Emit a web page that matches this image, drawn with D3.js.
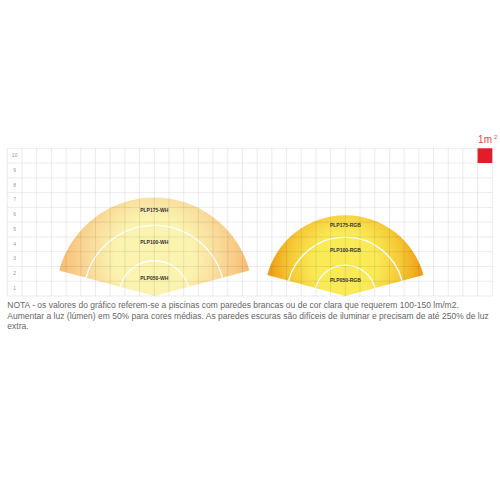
<!DOCTYPE html>
<html>
<head>
<meta charset="utf-8">
<script src="https://cdn.jsdelivr.net/npm/d3@7"></script>
<style>
  body { margin: 0; background: #fff; }
  svg { display: block; }
</style>
</head>
<body>
<div id="chart"></div>
<script>
// rows of the grid, metres
const rowLabels = ['1', '2', '3', '4', '5', '6', '7', '8', '9', '10']

// white models
const whLabels = ['PLP175-WH', 'PLP100-WH', 'PLP050-WH']
const whRadius = [6.7, 4.8, 2.4]

// rgb models
const rgbLabels = ['PLP175-RGB', 'PLP100-RGB', 'PLP050-RGB']
const rgbRadius = [5.5, 4.0, 2.1]

const noteLines = [
  'NOTA - os valores do gráfico referem-se a piscinas com paredes brancas ou de cor clara que requerem 100-150 lm/m2.',
  'Aumentar a luz (lúmen) em 50% para cores médias. As paredes escuras são difíceis de iluminar e precisam de até 250% de luz',
  'extra.'
]

const width = 500
const height = 500
const cols = 33
const rows = 10

const svg = d3.select('#chart')
  .append('svg')
  .attr('width', width)
  .attr('height', height)

const defs = svg.append('defs')

const x = d3.scaleLinear().domain([0, cols]).range([7.3, 492.3])
const y = d3.scaleLinear().domain([0, rows]).range([296, 148.3])
const unit = x(1) - x(0)

const fans = [
  { labels: whLabels, radius: whRadius, col: 10, id: 'gWH', edge: '#f7be74', mid: '#f9d998', core: '#fbf3b0' },
  { labels: rgbLabels, radius: rgbRadius, col: 23, id: 'gRGB', edge: '#ef9c14', mid: '#f6c936', core: '#f9ea56' }
]

const a0 = -75 * Math.PI / 180
const a1 = 75 * Math.PI / 180

const fanLayer = svg.append('g')

fans.forEach((f) => {
  const cx = x(f.col)
  const cy = y(0)
  const R = f.radius[0] * unit

  // radial glow, light in the middle, orange at the rim (local coords of the fan)
  const grad = defs.append('radialGradient')
    .attr('id', f.id)
    .attr('gradientUnits', 'userSpaceOnUse')
    .attr('cx', 0)
    .attr('cy', -R * 0.4)
    .attr('r', R * 0.95)
  grad.append('stop').attr('offset', '0%').attr('stop-color', f.core)
  grad.append('stop').attr('offset', '42%').attr('stop-color', f.core)
  grad.append('stop').attr('offset', '72%').attr('stop-color', f.mid)
  grad.append('stop').attr('offset', '100%').attr('stop-color', f.edge)

  const g = fanLayer.append('g').attr('transform', `translate(${cx},${cy})`)

  g.append('path')
    .attr('d', d3.arc()({ innerRadius: 0, outerRadius: R, startAngle: a0, endAngle: a1 }))
    .attr('fill', `url(#${f.id})`)

  // white ring lines for the smaller models
  f.radius.slice(1).forEach((r) => {
    const rr = r * unit
    const p0 = [rr * Math.sin(a0), -rr * Math.cos(a0)]
    const p1 = [rr * Math.sin(a1), -rr * Math.cos(a1)]
    g.append('path')
      .attr('d', `M${p0[0]},${p0[1]}A${rr},${rr} 0 0 1 ${p1[0]},${p1[1]}`)
      .attr('fill', 'none')
      .attr('stroke', '#fff')
      .attr('stroke-width', 1.3)
  })
})

// grid on top of the fans
const grid = svg.append('g')
grid.selectAll('line.v')
  .data(d3.range(cols + 1))
  .enter()
  .append('line')
  .attr('x1', (d) => x(d))
  .attr('x2', (d) => x(d))
  .attr('y1', y(rows))
  .attr('y2', y(0))
  .attr('stroke', 'rgba(0,0,0,0.1)')
  .attr('stroke-width', 0.8)
grid.selectAll('line.h')
  .data(d3.range(rows + 1))
  .enter()
  .append('line')
  .attr('x1', x(0))
  .attr('x2', x(cols))
  .attr('y1', (d) => y(d))
  .attr('y2', (d) => y(d))
  .attr('stroke', 'rgba(0,0,0,0.1)')
  .attr('stroke-width', 0.8)

// row numbers
grid.selectAll('text.row')
  .data(rowLabels)
  .enter()
  .append('text')
  .attr('x', x(0.5))
  .attr('y', (d, i) => y(i + 0.5))
  .attr('text-anchor', 'middle')
  .attr('dominant-baseline', 'middle')
  .attr('font-family', 'Liberation Sans, Arial, sans-serif')
  .attr('font-size', 5)
  .attr('fill', '#999')
  .text((d) => d)

// model names
fans.forEach((f) => {
  svg.append('g')
    .selectAll('text')
    .data(f.labels)
    .enter()
    .append('text')
    .attr('x', x(f.col))
    .attr('y', (d, i) => y((f.radius[i] + (f.radius[i + 1] || 0)) / 2))
    .attr('text-anchor', 'middle')
    .attr('dominant-baseline', 'middle')
    .attr('font-family', 'Liberation Sans, Arial, sans-serif')
    .attr('font-weight', 'bold')
    .attr('font-size', 5)
    .attr('fill', '#333')
    .text((d) => d)
})

// 1 m2 legend cell
svg.append('rect')
  .attr('x', x(cols - 1))
  .attr('y', y(rows))
  .attr('width', unit)
  .attr('height', unit)
  .attr('fill', '#e31c2a')

const leg = svg.append('text')
  .attr('x', x(cols - 1) + 0.5)
  .attr('y', 143)
  .attr('font-family', 'Liberation Sans, Arial, sans-serif')
  .attr('font-size', 10)
  .attr('fill', '#e64a3e')
leg.append('tspan').text('1m')
leg.append('tspan').attr('dx', 2).attr('dy', -4).attr('font-size', 6).text('2')

// note under the chart
svg.append('g')
  .selectAll('text')
  .data(noteLines)
  .enter()
  .append('text')
  .attr('x', 7.3)
  .attr('y', (d, i) => 308 + i * 10.7)
  .attr('font-family', 'Liberation Sans, Arial, sans-serif')
  .attr('font-size', 8.5)
  .attr('fill', '#666')
  .text((d) => d)
</script>
</body>
</html>
